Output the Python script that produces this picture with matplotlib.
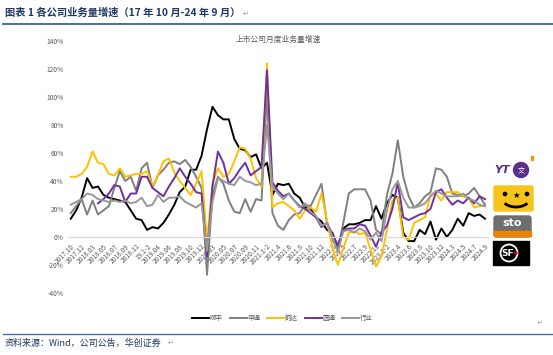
import numpy as np
import matplotlib
from matplotlib import pyplot as plt
from matplotlib.patches import Circle, FancyBboxPatch, Rectangle, Arc

plt.rcParams['font.family'] = ['Noto Sans CJK SC', 'DejaVu Sans']

# 月份刻度标签（每隔一个月标一次，1-2月合并）
tick_labels = ['2017.10', '2017.12', '2018.03', '2018.05', '2018.07', '2018.09', '2018.11',
               '19.1-2', '2019.04', '2019.06', '2019.08', '2019.10', '2019.12',
               '2020.03', '2020.05', '2020.07', '2020.09', '2020.11',
               '2021.1-2', '2021.4', '2021.6', '2021.8', '2021.10', '2021.12',
               '2022.3', '2022.5', '2022.7', '2022.9', '2022.11',
               '2023.1-2', '2023.4', '2023.6', '2023.8', '2023.10', '2023.12',
               '2024.3', '2024.5', '2024.7', '2024.9']

# 业务量增速（%）
sf = [13, 19, 28, 42, 35, 36, 30, 28, 27, 26, 25, 19, 13, 12, 5, 7, 6, 10, 16, 23,
      32, 36, 48, 48, 58, 77, 93, 87, 84, 84, 70, 63, 62, 57, 59, 49, 53, 30, 38, 37,
      38, 31, 28, 21, 20, 14, 11, 5, 3, -8, 6, 9, 9, 10, 12, 12, 22, 13, 24, 30,
      28, 3, -3, -3, 5, 2, 11, -2, 6, 0, 5, 13, 8, 17, 15, 16, 13]
sto = [17, 22, 27, 16, 26, 16, 19, 22, 35, 47, 40, 43, 33, 49, 53, 35, 44, 48, 53, 54,
       52, 55, 50, 43, 35, -27, 30, 43, 38, 26, 18, 17, 27, 18, 27, 26, 102, 17, 8, 5,
       12, 16, 17, 23, 22, 30, 38, 10, -2, -9, 10, 31, 34, 34, 34, 26, 5, 2, 30, 45,
       69, 43, 29, 21, 24, 29, 32, 49, 48, 43, 31, 30, 29, 31, 35, 29, 23]
yunda = [43, 43, 45, 50, 61, 53, 52, 45, 44, 49, 43, 44, 45, 45, 47, 36, 44, 54, 56, 46,
         40, 35, 30, 38, 47, -3, 38, 49, 43, 45, 54, 64, 63, 56, 42, 36, 124, 21, 24, 25,
         22, 19, 13, 19, 21, 18, 31, 12, -8, -20, -8, 3, 4, 2, 3, -9, -21, -14, 5, 26,
         28, 0, -2, 10, 12, 14, 30, 31, 26, 32, 32, 32, 29, 28, 21, 22, 22]
yto = [np.nan] * 5 + [24, 27, 31, 37, 36, 25, 31, 31, 43, 43, 35, 32, 29, 36, 42,
       49, 43, 38, 32, 31, -14, 36, 61, 53, 38, 42, 48, 53, 44, 47, 50, 119, 39, 33, 29,
       31, 26, 22, 20, 17, 14, 7, 10, 2, -6, 5, 6, 6, 9, 8, 1, -7, 3, 8, 20,
       39, 14, 12, 14, 16, 17, 20, 32, 34, 28, 23, 26, 24, 28, 24, 29, 27]
industry = [23, 25, 27, 31, 30, 27, 26, 25, 26, 25, 26, 24, 25, 28, 22, 23, 30, 25, 28, 28,
            29, 25, 23, 21, 24, -10, 25, 42, 40, 38, 37, 43, 40, 39, 37, 38, 80, 36, 31, 27,
            31, 26, 21, 24, 18, 15, 8, 10, 0, -11, 4, 5, 3, 6, 4, -2, 3, -3, 19, 34,
            40, 28, 21, 21, 22, 24, 29, 33, 31, 29, 29, 29, 31, 27, 26, 23, 22]

series = [('顺丰', sf, '#000000'), ('申通', sto, '#7f7f7f'), ('韵达', yunda, '#ffc000'),
          ('圆通', yto, '#7030a0'), ('行业', industry, '#989898')]

x = np.arange(len(sf))

fig = plt.figure(figsize=(5.53, 3.55), dpi=100)

# 背景装饰层（像素坐标）
ov = fig.add_axes([0, 0, 1, 1])
ov.set_xlim(0, 553)
ov.set_ylim(355, 0)
ov.axis('off')

ax = fig.add_axes([0.123, 0.175, 0.759, 0.7095])
ax.patch.set_alpha(0)
for s in ['left', 'right', 'top']:
    ax.spines[s].set_visible(False)
# 先把x轴移到0处，否则会重置刻度标签样式
ax.spines['bottom'].set_position(('data', 0))
ax.spines['bottom'].set_color('#d9d9d9')
ax.spines['bottom'].set_linewidth(0.8)

for name, vals, c in series:
    ax.plot(x, vals, color=c, lw=1.4, label=name)

ax.set_xlim(-0.5, 76.5)
ax.set_ylim(-40, 140)
ax.set_yticks(np.arange(-40, 141, 20))
ax.set_yticklabels([f'{v}%' for v in range(-40, 141, 20)], fontsize=4.8, color='#595959')
ax.set_xticks(x[::2])
ax.set_xticklabels(tick_labels, rotation=45, ha='right', rotation_mode='anchor',
                   fontsize=4.8, color='#595959')
ax.tick_params(axis='y', length=0, pad=3)
ax.tick_params(axis='x', length=0, pad=4)

ov.text(278, 40, '上市公司月度业务量增速', ha='center', va='center', fontsize=5.6, color='#595959')

fig.legend(loc='center', bbox_to_anchor=(0.511, 0.104), ncol=5, frameon=False,
           fontsize=4.7, handlelength=2.6, handletextpad=0.15, columnspacing=1.0,
           labelcolor='#595959')

# 标题与来源
ov.text(5, 13, '图表 1 各公司业务量增速（17 年 10 月-24 年 9 月）', fontsize=7.4,
        fontweight='bold', color='#1f3864', va='center')
ov.text(243, 14, '↵', fontsize=5, color='#999999', va='center')
ov.plot([3, 553], [24, 24], color='#2f5496', lw=1.2)
ov.text(537, 323, '↵', fontsize=5, color='#999999', va='center')
ov.plot([3, 553], [334, 334], color='#4a6da7', lw=1.0)
ov.text(5, 343, '资料来源：Wind，公司公告，华创证券', fontsize=6.5, style='italic',
        color='#1f3864', va='center')
ov.text(168, 343, '↵', fontsize=5, color='#999999', va='center')

# 右侧公司标识
ov.text(494, 170, 'YT', fontsize=8, fontweight='bold', style='italic', color='#5b2d8e',
        va='center', family='DejaVu Sans')
ov.add_patch(Circle((521, 170), 7.5, color='#5b2d8e'))
ov.text(521, 170, '文', fontsize=5, color='white', ha='center', va='center')
ov.add_patch(Rectangle((531, 156), 2, 4, color='#f39800'))

ov.add_patch(FancyBboxPatch((494, 186), 39, 25, boxstyle='round,pad=0,rounding_size=1.5',
                            color='#f7c41c'))
ov.add_patch(Circle((505, 194), 1.6, color='black'))
ov.add_patch(Circle((527, 194), 1.6, color='black'))
ov.text(516, 195, '★', fontsize=6, ha='center', va='center', color='black', family='DejaVu Sans')
ov.add_patch(Arc((516, 198), 28, 18, theta1=25, theta2=155, color='black', lw=2))

ov.add_patch(FancyBboxPatch((494, 216), 37, 21, boxstyle='round,pad=0,rounding_size=2.5',
                            color='#6e6e6e'))
ov.add_patch(Rectangle((494, 231), 37, 5, color='#f08300'))
ov.text(512, 223, 'sto', fontsize=8, fontweight='bold', color='white', ha='center',
        va='center', family='DejaVu Sans')

ov.add_patch(Rectangle((493, 241), 36, 24, color='black'))
ov.add_patch(Circle((509, 253), 8.5, fill=False, ec='white', lw=1.3))
ov.text(508, 253, 'SF', fontsize=6.5, fontweight='bold', color='white', ha='center',
        va='center', family='DejaVu Sans')
ov.add_patch(Circle((516, 253), 1.0, color='#e60012'))

fig.savefig('out.png', dpi=100)
